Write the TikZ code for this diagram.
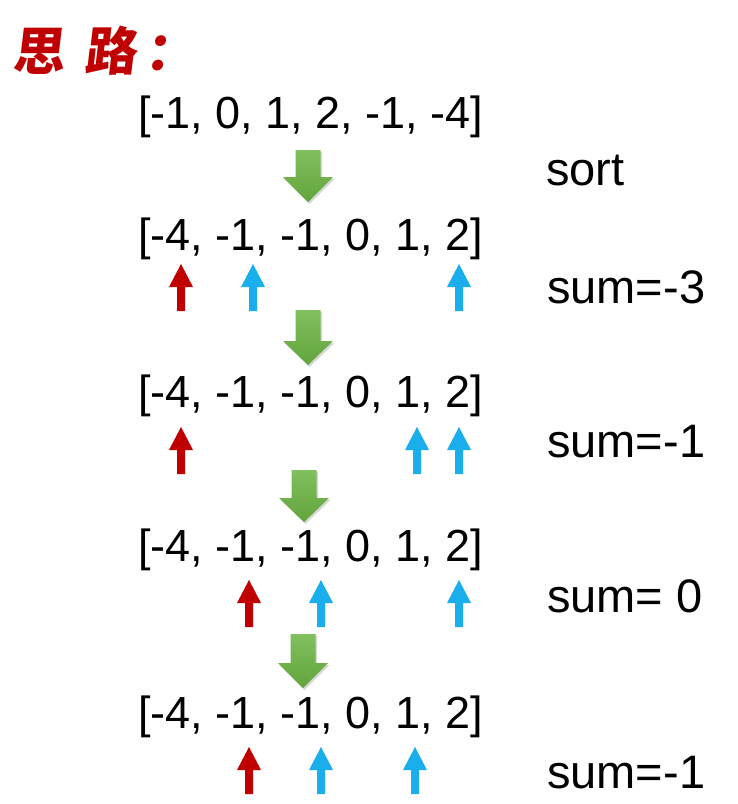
\documentclass[tikz,border=0pt]{standalone}
\usepackage{fontspec}
\setmainfont{Liberation Sans}
\newfontfamily\cjkfont[FakeSlant=0.12]{Noto Sans CJK SC}
\usetikzlibrary{shadows}
\definecolor{tred}{RGB}{192,0,0}
\definecolor{pred}{RGB}{192,0,0}
\definecolor{pblue}{RGB}{27,174,236}
\definecolor{gtop}{RGB}{128,192,94}
\definecolor{gbot}{RGB}{98,164,60}
\tikzset{
  arr/.style={anchor=base west, inner sep=0pt, font=\fontsize{45}{54}\selectfont},
  lab/.style={anchor=base west, inner sep=0pt, font=\fontsize{47}{56}\selectfont},
  ttl/.style={anchor=base west, inner sep=0pt, text=tred, font=\cjkfont\bfseries\fontsize{52}{62}\selectfont},
  greenarrow/.style={top color=gtop, bottom color=gbot, draw=none,
    drop shadow={opacity=0.22, shadow xshift=1.5pt, shadow yshift=-2pt, fill=black!70}},
}
\begin{document}
\begin{tikzpicture}[x=1pt,y=-1pt]
\useasboundingbox[fill=white] (0,0) rectangle (738,804);
% title
\node[ttl] (title) at (12,70) {思\hspace{20pt}路\hspace{8pt}：};
% arrays
\node[arr] (row1) at (138,128) {[-1, 0, 1, 2, -1, -4]};
\node[arr] (row2) at (138,250) {[-4, -1, -1, 0, 1, 2]};
\node[arr] (row3) at (138,407) {[-4, -1, -1, 0, 1, 2]};
\node[arr] (row4) at (138,561) {[-4, -1, -1, 0, 1, 2]};
\node[arr] (row5) at (138,728) {[-4, -1, -1, 0, 1, 2]};
% labels
\node[lab] (sort) at (546,185) {sort};
\node[lab] (sum1) at (547,303) {sum=-3};
\node[lab] (sum2) at (547,457) {sum=-1};
\node[lab] (sum3) at (547,612) {sum= 0};
\node[lab] (sum4) at (547,788) {sum=-1};
% green down arrows: cx/top/neck/tip
\foreach \cx/\t/\n/\p in {308/150/177/202, 308/310/341/365, 304/470/498/522, 303/634/663/688}{
  \path[greenarrow] (\cx-12.5,\t) -- (\cx+12.5,\t) -- (\cx+12.5,\n) -- (\cx+25,\n)
     -- (\cx,\p) -- (\cx-25,\n) -- (\cx-12.5,\n) -- cycle;
}
% pointer arrows: x/top/colour
\foreach \x/\t/\c in {181/264/pred, 253/264/pblue, 459/264/pblue,
                      181/427/pred, 417/427/pblue, 459/427/pblue,
                      249/580/pred, 321/580/pblue, 459/580/pblue,
                      249/747/pred, 321/747/pblue, 415/747/pblue}{
  \fill[\c] (\x,\t) -- (\x+12,\t+23) -- (\x+4,\t+23) -- (\x+4,\t+47)
     -- (\x-4,\t+47) -- (\x-4,\t+23) -- (\x-12,\t+23) -- cycle;
}
\end{tikzpicture}
\end{document}
